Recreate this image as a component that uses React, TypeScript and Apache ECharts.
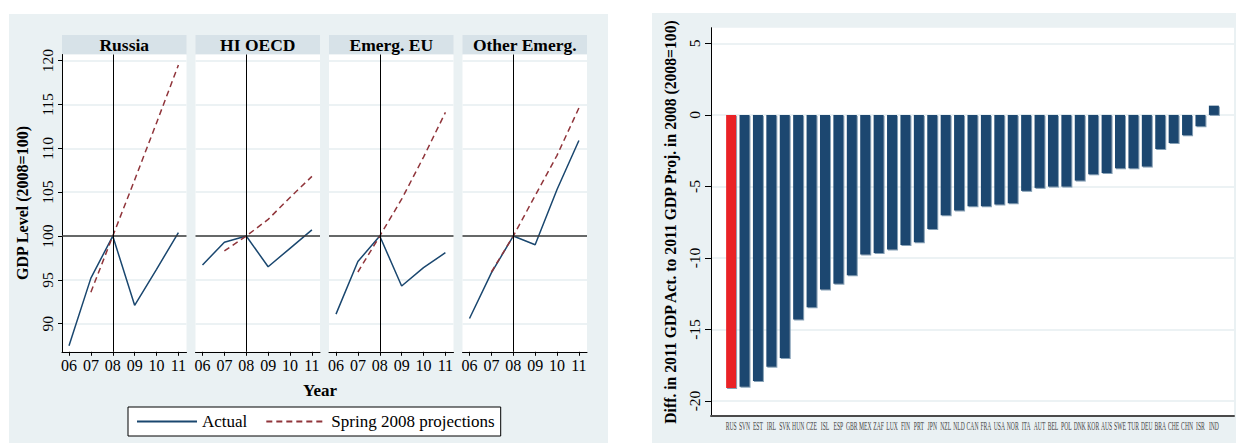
import React, { useEffect, useRef } from "react";
import * as echarts from "echarts";

// ---------- data ----------
const years = [6, 7, 8, 9, 10, 11];
const regions = ["Russia", "HI OECD", "Emerg. EU", "Other Emerg."];
const russiaActual = [87.5, 95.2, 100, 92.1, 96.2, 100.4];
const russiaProj = [null, 93.6, 100, 106.4, 112.9, 119.5];
const hiOecdActual = [96.7, 99.3, 100, 96.5, 98.6, 100.7];
const hiOecdProj = [null, 98.3, 100, 101.9, 104.4, 106.8];
const emergEuActual = [91.1, 97.1, 100, 94.3, 96.4, 98.1];
const emergEuProj = [null, 95.9, 100, 104.2, 109.0, 114.1];
const otherActual = [90.6, 95.8, 100, 99.0, 105.3, 110.9];
const otherProj = [null, 95.9, 100, 104.6, 109.2, 114.6];
const levelTicks = [90, 95, 100, 105, 110, 115, 120];

const countries = [
  "RUS", "SVN", "EST", "IRL", "SVK", "HUN", "CZE", "ISL", "ESP", "GBR",
  "MEX", "ZAF", "LUX", "FIN", "PRT", "JPN", "NZL", "NLD", "CAN", "FRA",
  "USA", "NOR", "ITA", "AUT", "BEL", "POL", "DNK", "KOR", "AUS", "SWE",
  "TUR", "DEU", "BRA", "CHE", "CHN", "ISR", "IND",
];
const diffs = [
  -19.1, -19.0, -18.6, -17.6, -17.0, -14.3, -13.45, -12.2, -11.8, -11.2,
  -9.75, -9.65, -9.4, -9.1, -8.9, -7.97, -7.02, -6.69, -6.39, -6.39,
  -6.27, -6.18, -5.31, -5.1, -5.01, -5.01, -4.59, -4.15, -4.06, -3.73,
  -3.73, -3.61, -2.38, -1.96, -1.42, -0.79, 0.65,
];
const diffTicks = [-20, -15, -10, -5, 0, 5];
const highlighted = "RUS";

const actualSeries = [russiaActual, hiOecdActual, emergEuActual, otherActual];
const projSeries = [russiaProj, hiOecdProj, emergEuProj, otherProj];

// ---------- styling ----------
const FONT = "'Liberation Serif', 'Times New Roman', serif";
const BG = "#eaf1f3";
const HEADER = "#d7e2e8";
const GRIDLINE = "#e6eef1";
const NAVY = "#1a476f";
const MAROON = "#90353b";
const RED = "#ea2228";

const panelLefts = [62, 195.5, 329, 462.5];
const panelWidth = 124.5;
const panelTop = 54.5;
const panelHeight = 297.3;
const DIFF_MIN = -21.05;
const DIFF_MAX = 6.1;

export default function App() {
  const ref = useRef<HTMLDivElement>(null);

  useEffect(() => {
    if (!ref.current) return;
    const chart = echarts.init(ref.current, null, { renderer: "svg" });

    const grids: any[] = panelLefts.map((l) => ({
      left: l,
      top: panelTop,
      width: panelWidth,
      height: panelHeight,
      show: true,
      backgroundColor: "#fff",
      borderWidth: 0,
    }));
    grids.push({
      left: 711,
      top: 27.7,
      width: 523,
      height: 388.3,
      show: true,
      backgroundColor: "#fff",
      borderWidth: 0,
    });

    const xAxes: any[] = panelLefts.map((_, i) => ({
      type: "value",
      gridIndex: i,
      min: 5.68,
      max: 11.37,
      minInterval: 1,
      maxInterval: 1,
      splitLine: { show: false },
      axisLine: { show: true, onZero: false, lineStyle: { color: "#000", width: 1 } },
      axisTick: { show: true, customValues: years, length: 4, lineStyle: { color: "#000" } },
      axisLabel: {
        show: true,
        customValues: years,
        formatter: (v: number) => (v < 10 ? "0" : "") + v,
        fontFamily: FONT,
        fontSize: 16,
        color: "#000",
        margin: 6,
      },
    }));
    xAxes.push({
      type: "category",
      gridIndex: 4,
      data: ["", ...countries, ""],
      axisLine: { show: true, onZero: false, lineStyle: { color: "#4a4a4a", width: 2 } },
      axisTick: { show: false },
      axisLabel: { show: false },
      splitLine: { show: false },
    });

    const yAxes: any[] = panelLefts.map((_, i) => ({
      type: "value",
      gridIndex: i,
      min: 86.8,
      max: 120.7,
      minInterval: 5,
      maxInterval: 5,
      splitLine: { show: true, lineStyle: { color: GRIDLINE, width: 1.5 } },
      axisLine: { show: i === 0, lineStyle: { color: "#000", width: 1 } },
      axisTick: {
        show: i === 0,
        customValues: levelTicks,
        length: 4,
        lineStyle: { color: "#000" },
      },
      axisLabel: {
        show: i === 0,
        customValues: levelTicks,
        rotate: 90,
        fontFamily: FONT,
        fontSize: 15.5,
        color: "#000",
        margin: 7,
        formatter: (v: number) => (v % 5 === 0 ? String(v) : ""),
      },
    }));
    yAxes.push({
      type: "value",
      gridIndex: 4,
      min: DIFF_MIN,
      max: DIFF_MAX,
      minInterval: 5,
      maxInterval: 5,
      splitLine: { show: true, lineStyle: { color: GRIDLINE, width: 1.5 } },
      axisLine: { show: true, onZero: false, lineStyle: { color: "#000", width: 1 } },
      axisTick: { show: true, customValues: diffTicks, length: 6, lineStyle: { color: "#000" } },
      axisLabel: {
        customValues: diffTicks,
        rotate: 90,
        fontFamily: FONT,
        fontSize: 15.5,
        color: "#000",
        margin: 9,
        formatter: (v: number) => (v % 5 === 0 ? String(v) : ""),
      },
    });

    const series: any[] = [];
    regions.forEach((_, i) => {
      series.push({
        type: "line",
        name: "ref" + i,
        xAxisIndex: i,
        yAxisIndex: i,
        data: [],
        z: 1,
        markLine: {
          silent: true,
          symbol: ["none", "none"],
          label: { show: false },
          animation: false,
          data: [
            { yAxis: 100, lineStyle: { color: "#3a3a3a", width: 1.5, type: "solid" } },
            { xAxis: 8, lineStyle: { color: "#000", width: 1, type: "solid" } },
          ],
        },
      });
      series.push({
        type: "line",
        name: "Actual",
        xAxisIndex: i,
        yAxisIndex: i,
        data: years.map((y, k) => [y, actualSeries[i][k]]),
        symbol: "none",
        z: 3,
        lineStyle: { color: NAVY, width: 1.5 },
        itemStyle: { color: NAVY },
      });
      series.push({
        type: "line",
        name: "Spring 2008 projections",
        xAxisIndex: i,
        yAxisIndex: i,
        data: years
          .map((y, k) => [y, projSeries[i][k]])
          .filter((d) => d[1] !== null),
        symbol: "none",
        z: 4,
        lineStyle: { color: MAROON, width: 1.5, type: [6, 4] },
        itemStyle: { color: MAROON },
      });
    });
    series.push({
      type: "bar",
      name: "diff",
      xAxisIndex: 4,
      yAxisIndex: 4,
      barWidth: 10,
      data: [
        null,
        ...diffs.map((v, k) => ({
          value: v,
          itemStyle: { color: countries[k] === highlighted ? RED : NAVY },
        })),
        null,
      ],
      itemStyle: {
        color: NAVY,
        shadowColor: "rgba(120,150,175,0.9)",
        shadowOffsetX: 1,
        shadowOffsetY: 1,
        shadowBlur: 0,
      },
    });

    const graphics: any[] = [
      { type: "rect", id: "bgL", z: -10, shape: { x: 9, y: 14, width: 599, height: 429 }, style: { fill: BG } },
      { type: "rect", id: "bgR", z: -10, shape: { x: 652, y: 13, width: 584, height: 430 }, style: { fill: BG } },
    ];
    regions.forEach((r, i) => {
      graphics.push({
        type: "rect",
        id: "hdr" + i,
        z: -5,
        shape: { x: panelLefts[i], y: 35, width: panelWidth, height: 19.5 },
        style: { fill: HEADER },
      });
      graphics.push({
        type: "text",
        id: "hdrt" + i,
        z: 5,
        x: panelLefts[i] + panelWidth / 2,
        y: 45,
        style: {
          text: r,
          fill: "#000",
          font: `bold 17.5px ${FONT}`,
          align: "center",
          verticalAlign: "middle",
        },
      });
    });
    graphics.push({
      type: "text",
      id: "ytitleL",
      z: 5,
      x: 22,
      y: 203,
      rotation: Math.PI / 2,
      style: {
        text: "GDP Level (2008=100)",
        fill: "#000",
        font: `bold 16px ${FONT}`,
        align: "center",
        verticalAlign: "middle",
      },
    });
    graphics.push({
      type: "text",
      id: "xtitleL",
      z: 5,
      x: 320,
      y: 390,
      style: {
        text: "Year",
        fill: "#000",
        font: `bold 17px ${FONT}`,
        align: "center",
        verticalAlign: "middle",
      },
    });
    graphics.push({
      type: "text",
      id: "ytitleR",
      z: 5,
      x: 670,
      y: 222,
      rotation: Math.PI / 2,
      style: {
        text: "Diff. in 2011 GDP Act. to 2011 GDP Proj. in 2008 (2008=100)",
        fill: "#000",
        font: `bold 15.7px ${FONT}`,
        align: "center",
        verticalAlign: "middle",
      },
    });

    chart.setOption({
      animation: false,
      grid: grids,
      xAxis: xAxes,
      yAxis: yAxes,
      series,
      legend: {
        data: ["Actual", "Spring 2008 projections"],
        left: 128,
        top: 407,
        orient: "horizontal",
        itemWidth: 60,
        itemHeight: 14,
        itemGap: 18,
        padding: [6, 6, 6, 8],
        borderColor: "#000",
        borderWidth: 1,
        borderRadius: 0,
        backgroundColor: "#fff",
        selectedMode: false,
        itemStyle: { opacity: 0, borderWidth: 0 },
        textStyle: { fontFamily: FONT, fontSize: 17, color: "#000", lineHeight: 17 },
      },
      graphic: graphics,
    });

    // condensed category labels placed with the library's own scale
    const bottomY = chart.convertToPixel({ yAxisIndex: 4 }, DIFF_MIN) as number;
    const labelEls = countries.map((c, k) => {
      const px = chart.convertToPixel({ xAxisIndex: 4 }, c) as number;
      return {
        type: "text",
        id: "cat" + k,
        z: 5,
        x: px,
        y: bottomY + 10.5,
        scaleX: 0.47,
        style: {
          text: c,
          fill: "#444",
          font: `12px ${FONT}`,
          align: "center",
          verticalAlign: "middle",
        },
      };
    });
    chart.setOption({ graphic: [...graphics, ...labelEls] });

    return () => {
      chart.dispose();
    };
  }, []);

  return (
    <div
      ref={ref}
      style={{ position: "absolute", left: 0, top: 0, width: 1236, height: 443 }}
    />
  );
}
